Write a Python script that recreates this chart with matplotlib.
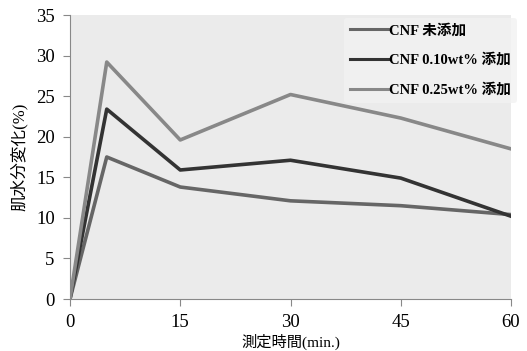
import matplotlib
matplotlib.use("Agg")
import matplotlib.pyplot as plt

plt.rcParams['font.family'] = ['Liberation Serif', 'Noto Sans CJK JP', 'DejaVu Sans']

times = [0, 5, 15, 30, 45, 60]
cnf_none = [0, 17.5, 13.8, 12.1, 11.5, 10.4]
cnf_010 = [0, 23.4, 15.9, 17.1, 14.9, 10.2]
cnf_025 = [0, 29.2, 19.6, 25.2, 22.3, 18.5]
labels = ['CNF 未添加', 'CNF 0.10wt% 添加', 'CNF 0.25wt% 添加']
xticks = [0, 15, 30, 45, 60]
yticks = [0, 5, 10, 15, 20, 25, 30, 35]

fig = plt.figure(figsize=(5.27, 3.51), dpi=100)
ax = fig.add_axes([70/527, 1-299/351, 441/527, 284/351])
ax.set_facecolor('#ebebeb')

ax.plot(times, cnf_none, color='#666666', lw=2.6, label=labels[0])
ax.plot(times, cnf_010, color='#333333', lw=2.6, label=labels[1])
ax.plot(times, cnf_025, color='#888888', lw=2.6, label=labels[2])

ax.set_xlim(0, 60)
ax.set_ylim(0, 35)
ax.set_xticks(xticks)
ax.set_yticks(yticks)
for s in ['top', 'right']:
    ax.spines[s].set_visible(False)
for s in ['left', 'bottom']:
    ax.spines[s].set_color('#888888')
ax.tick_params(direction='out', length=5, color='#888888', labelsize=13.5, pad=6)
ax.set_xlabel('測定時間(min.)', fontsize=11, labelpad=2)
ax.set_ylabel('肌水分変化(%)', fontsize=12, labelpad=6)

leg = ax.legend(loc='upper right', bbox_to_anchor=(1.02, 1.0), frameon=True, fontsize=10.5,
                handlelength=2.6, labelspacing=1.1, borderaxespad=0.2, handletextpad=0.1)
leg.get_frame().set_facecolor('#f2f2f2')
leg.get_frame().set_edgecolor('none')
for line in leg.get_lines():
    line.set_linewidth(2.2)
for t in leg.get_texts():
    t.set_fontweight('semibold')

fig.savefig('out.png', dpi=100)
